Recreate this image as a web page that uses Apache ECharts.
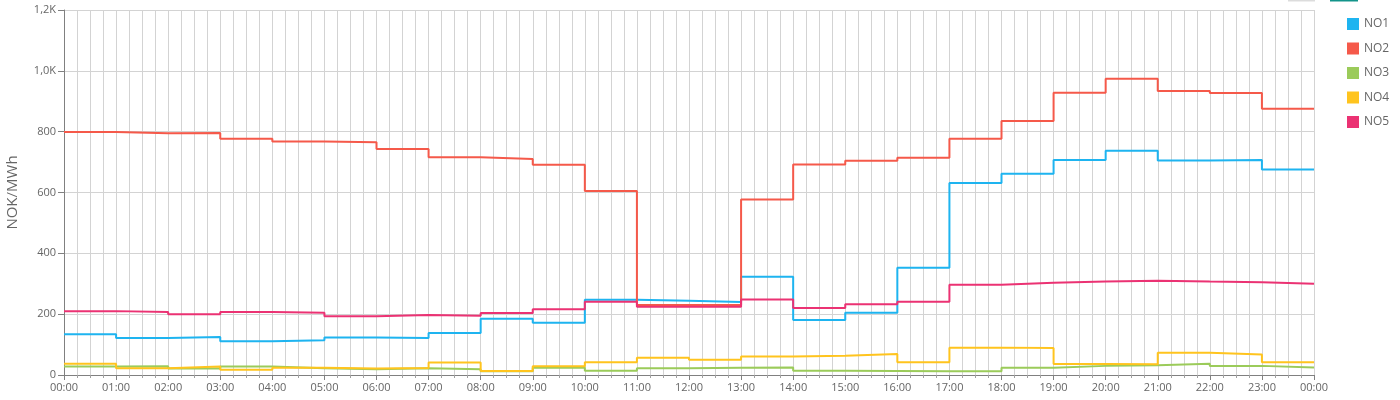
<!DOCTYPE html>
<html>
<head>
<meta charset="utf-8">
<script src="https://cdn.jsdelivr.net/npm/echarts@6/dist/echarts.min.js"></script>
<style>html,body{margin:0;padding:0;background:#fff;}#c{width:1400px;height:400px;}</style>
</head>
<body>
<div id="c"></div>
<script>
// Hour of day (0..24), value holds from hour h to h+1
const hours = [0,1,2,3,4,5,6,7,8,9,10,11,12,13,14,15,16,17,18,19,20,21,22,23,24];
const seriesNames = ['NO1','NO2','NO3','NO4','NO5'];
const NO1 = [134,122,125,111,114,123,122,138,185,172,247,244,240,323,181,205,353,631,662,707,737,705,707,676];
const NO2 = [799,795,796,777,768,765,743,716,710,691,605,230,230,577,692,704,714,777,835,928,974,934,927,875];
const NO3 = [28,29,21,28,22,19,22,19,12,24,14,22,24,25,14,13,12,12,24,30,32,37,30,25];
const NO4 = [37,22,28,17,24,21,23,41,13,29,42,57,50,61,63,69,42,90,89,36,35,73,67,42];
const NO5 = [210,207,200,207,205,193,197,195,204,216,241,224,224,248,220,233,241,297,303,307,310,307,305,300];
const yTicks = {0:'0',200:'200',400:'400',600:'600',800:'800',1000:'1,0K',1200:'1,2K'};
const colors = ['#1eb4f0','#f5594a','#9bcb5a','#ffc41e','#eb3273'];

const valuesByName = {NO1, NO2, NO3, NO4, NO5};
function toData(vals){
  // last point (24:00) repeats the 23:00 value so the final step is drawn
  return hours.map((h,i)=>[h, vals[Math.min(i, vals.length-1)]]);
}
const chart = echarts.init(document.getElementById('c'), null, {renderer:'canvas'});
const font = 'Open Sans, sans-serif';
chart.setOption({
  animation:false,
  textStyle:{fontFamily:font},
  color: colors,
  grid:{left:64, right:86, top:10, bottom:25, containLabel:false, outerBoundsMode:'none'},
  legend:{
    orient:'vertical', left:1342, top:13,
    itemWidth:12, itemHeight:12, itemGap:12.5,
    icon:'rect',
    textStyle:{color:'#666', fontSize:12, fontFamily:font},
    data: seriesNames
  },
  graphic:[
    {type:'rect', shape:{x:1288,y:0,width:27,height:1.5}, style:{fill:'#dcdcdc'}},
    {type:'rect', shape:{x:1330,y:0,width:28,height:1.5}, style:{fill:'#13948a'}}
  ],
  xAxis:{
    type:'value', min:0, max:24, interval:1,
    axisLine:{show:true, lineStyle:{color:'#808080'}},
    axisTick:{show:true, length:5, lineStyle:{color:'#808080'}},
    minorTick:{show:true, splitNumber:4, length:3, lineStyle:{color:'#a0a0a0'}},
    splitLine:{show:true, lineStyle:{color:'#d3d3d3'}},
    minorSplitLine:{show:true, lineStyle:{color:'#d3d3d3'}},
    axisLabel:{color:'#666', fontSize:11, margin:7, fontFamily:font,
      formatter:v=>String(Math.round(v)%24).padStart(2,'0')+':00'}
  },
  yAxis:{
    type:'value', min:0, max:1200, interval:200,
    name:'NOK/MWh', nameLocation:'middle', nameGap:44, nameRotate:90,
    nameTextStyle:{color:'#666', fontSize:15, fontFamily:font},
    axisLine:{show:true, lineStyle:{color:'#808080'}},
    axisTick:{show:true, length:6, lineStyle:{color:'#808080'}},
    splitLine:{show:true, lineStyle:{color:'#d3d3d3'}},
    axisLabel:{color:'#666', fontSize:11, margin:8, fontFamily:font,
      formatter:v=>yTicks[v] !== undefined ? yTicks[v] : String(v)}
  },
  series: seriesNames.map((n,i)=>({
    name:n, type:'line', step:'end', symbol:'none',
    data: toData(valuesByName[n]),
    lineStyle:{width:2, color:colors[i]},
    itemStyle:{color:colors[i]}
  }))
});
</script>
</body>
</html>
